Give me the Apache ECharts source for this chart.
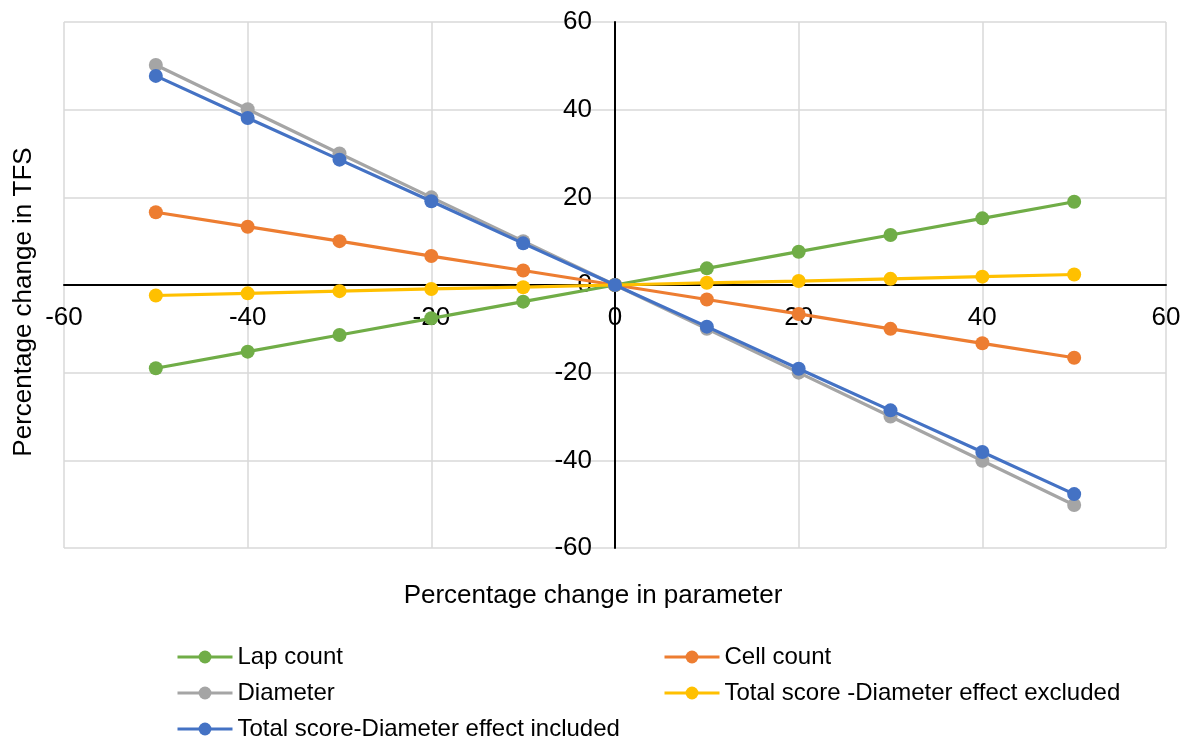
<!DOCTYPE html>
<html>
<head>
<meta charset="utf-8">
<script src="https://cdn.jsdelivr.net/npm/echarts@6/dist/echarts.min.js"></script>
<style>
html,body{margin:0;padding:0;background:#fff;}
#chart{width:1186px;height:748px;}
</style>
</head>
<body>
<div id="chart"></div>
<script>
const xValues = [-50, -40, -30, -20, -10, 0, 10, 20, 30, 40, 50];
const lapCount = [-19.0, -15.2, -11.4, -7.6, -3.8, 0, 3.8, 7.6, 11.4, 15.2, 19.0];
const cellCount = [16.6, 13.3, 10.0, 6.6, 3.3, 0, -3.3, -6.6, -10.0, -13.3, -16.6];
const diameter = [50.2, 40.1, 30.0, 20.0, 10.0, 0, -10.0, -20.0, -30.0, -40.1, -50.2];
const totalExcl = [-2.4, -1.9, -1.4, -0.9, -0.5, 0, 0.5, 0.9, 1.4, 1.9, 2.4];
const totalIncl = [47.7, 38.1, 28.6, 19.1, 9.5, 0, -9.5, -19.1, -28.6, -38.1, -47.7];
const seriesNames = ['Lap count', 'Cell count', 'Diameter', 'Total score -Diameter effect excluded', 'Total score-Diameter effect included'];
const seriesColors = ['#70AD47', '#ED7D31', '#A5A5A5', '#FFC000', '#4472C4'];
const seriesValues = [lapCount, cellCount, diameter, totalExcl, totalIncl];
const xTitle = 'Percentage change in parameter';
const yTitle = 'Percentage change in TFS';

const FONT = '"Liberation Sans", Arial, sans-serif';
const chart = echarts.init(document.getElementById('chart'), null, {renderer: 'canvas'});

const series = seriesNames.map((name, i) => ({
  name: name,
  type: 'line',
  data: xValues.map((x, j) => [x, seriesValues[i][j]]),
  symbol: 'circle',
  symbolSize: 14,
  color: seriesColors[i],
  lineStyle: {width: 3.2, color: seriesColors[i]},
  itemStyle: {color: seriesColors[i]},
  emphasis: {disabled: true},
  animation: false,
  z: 2 + i
}));

const legendCommon = {
  orient: 'vertical',
  itemWidth: 55,
  itemHeight: 16,
  itemGap: 12,
  padding: 0,
  lineStyle: {width: 3},
  textStyle: {fontFamily: FONT, fontSize: 24, color: '#000'},
  selectedMode: false
};

chart.setOption({
  backgroundColor: '#fff',
  animation: false,
  grid: {left: 64, right: 20, top: 22, bottom: 200, containLabel: false},
  xAxis: {
    type: 'value', min: -60, max: 60, interval: 20,
    offset: -263,
    axisLine: {onZero: false, lineStyle: {color: '#000', width: 2}},
    axisTick: {show: false},
    axisLabel: {fontFamily: FONT, fontSize: 26, color: '#000', margin: 20, showMinLabel: true, showMaxLabel: true},
    splitLine: {show: true, lineStyle: {color: '#d9d9d9', width: 1.5}},
    z: 1
  },
  yAxis: {
    type: 'value', min: -60, max: 60, interval: 20,
    offset: -551,
    axisLine: {onZero: false, lineStyle: {color: '#000', width: 2}},
    axisTick: {show: false},
    axisLabel: {fontFamily: FONT, fontSize: 26, color: '#000', margin: 23, showMinLabel: true, showMaxLabel: true},
    splitLine: {show: true, lineStyle: {color: '#d9d9d9', width: 1.5}},
    z: 1
  },
  legend: [
    Object.assign({left: 176, top: 645, data: [seriesNames[0], seriesNames[2], seriesNames[4]]}, legendCommon),
    Object.assign({left: 663, top: 645, data: [seriesNames[1], seriesNames[3]]}, legendCommon)
  ],
  graphic: [
    {type: 'text', left: 'center', top: 583, style: {text: xTitle, font: '26px ' + FONT, fill: '#000'}, x: 54},
    {type: 'text', x: 24, y: 302, rotation: Math.PI / 2, style: {text: yTitle, font: '26px ' + FONT, fill: '#000', textAlign: 'center', textVerticalAlign: 'middle'}}
  ],
  series: series
});
</script>
</body>
</html>
